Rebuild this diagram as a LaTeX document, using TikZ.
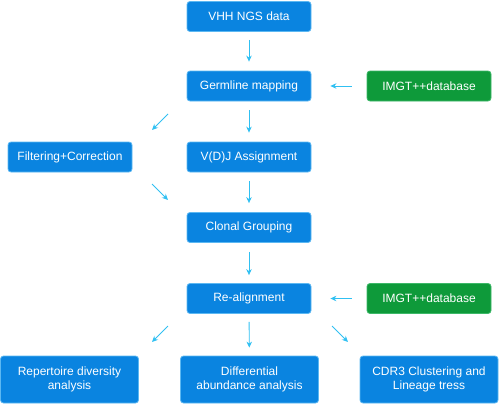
\documentclass[tikz,border=0pt]{standalone}
\usepackage{fontspec}
\setmainfont{Liberation Sans}
\usetikzlibrary{arrows.meta}
\definecolor{boxblue}{HTML}{0A84E0}
\definecolor{boxedge}{HTML}{5CB8F2}
\definecolor{boxgreen}{HTML}{0E9A3A}
\definecolor{greenedge}{HTML}{3CB868}
\definecolor{arrowc}{HTML}{30C0F2}
\begin{document}
\begin{tikzpicture}[x=1pt,y=-1pt,
  bbox/.style={draw=boxedge,fill=boxblue,line width=0.8pt,rounded corners=3pt,text=white,
    font=\fontsize{12}{14}\selectfont,inner sep=0pt,minimum width=124pt,minimum height=30pt,align=center},
  gbox/.style={bbox,draw=greenedge,fill=boxgreen},
  wbox/.style={bbox,minimum width=138pt,minimum height=47pt},
  arr/.style={draw=arrowc,line width=0.9pt,-{Stealth[length=6pt,width=5.5pt]}}]
\useasboundingbox (0,0) rectangle (500,404);
\node[bbox] (vhh) at (249,16.5) {VHH NGS data};
\node[bbox] (germ) at (249,86) {Germline mapping};
\node[gbox] (imgt1) at (429,86) {IMGT++database};
\node[bbox] (filt) at (70,157) {Filtering+Correction};
\node[bbox] (vdj) at (249,157) {V(D)J Assignment};
\node[bbox] (clon) at (249,227.5) {Clonal Grouping};
\node[bbox] (real) at (249,298.5) {Re-alignment};
\node[gbox] (imgt2) at (429,298.5) {IMGT++database};
\node[wbox] (rep) at (69.5,379.5) {Repertoire diversity\\analysis};
\node[wbox] (diff) at (249.5,379.5) {Differential\\abundance analysis};
\node[wbox] (cdr) at (429,379.5) {CDR3 Clustering and\\Lineage tress};
\coordinate (d1s) at (168,114); \coordinate (d1e) at (152,130);
\coordinate (d2s) at (152,184); \coordinate (d2e) at (168,200);
\coordinate (d3s) at (168,326); \coordinate (d3e) at (152,342);
\coordinate (d4s) at (332,326); \coordinate (d4e) at (348,342);
\draw[arr,shorten <=8pt,shorten >=9pt] (vhh) -- (germ);
\draw[arr,shorten <=9pt,shorten >=9pt] (germ) -- (vdj);
\draw[arr,shorten <=9pt,shorten >=9pt] (vdj) -- (clon);
\draw[arr,shorten <=9pt,shorten >=8pt] (clon) -- (real);
\draw[arr,shorten <=8pt,shorten >=8pt] (real) -- (diff);
\draw[arr,shorten <=15pt,shorten >=19pt] (imgt1) -- (germ);
\draw[arr,shorten <=15pt,shorten >=19pt] (imgt2) -- (real);
\draw[arr] (d1s) -- (d1e);
\draw[arr] (d2s) -- (d2e);
\draw[arr] (d3s) -- (d3e);
\draw[arr] (d4s) -- (d4e);
\end{tikzpicture}
\end{document}
